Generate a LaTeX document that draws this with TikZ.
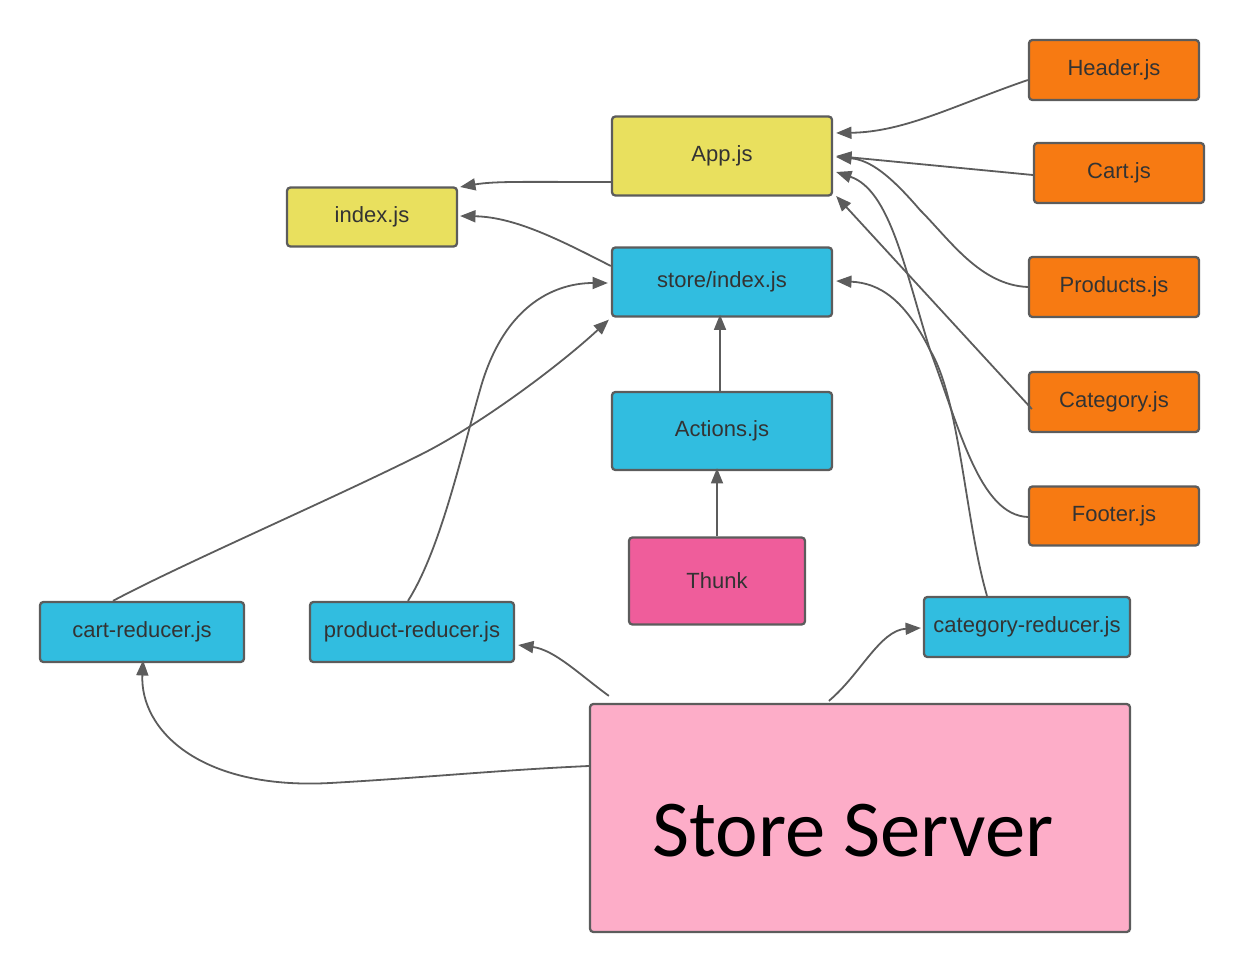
\documentclass[tikz,border=0pt]{standalone}
\usepackage{fontspec}
\setmainfont{Liberation Sans}
\newfontfamily\carlito{Carlito}
\usetikzlibrary{arrows.meta}
\definecolor{yel}{HTML}{E9E05E}
\definecolor{blu}{HTML}{31BDE0}
\definecolor{org}{HTML}{F77A12}
\definecolor{thk}{HTML}{EF5D9B}
\definecolor{srv}{HTML}{FDADC8}
\definecolor{edge}{HTML}{5C5C5C}
\definecolor{txt}{HTML}{333333}
\tikzset{
  box/.style={draw=edge, line width=1.7pt, rounded corners=2.5pt, inner sep=0pt,
    font=\fontsize{16.5}{19}\selectfont, text=txt},
  conn/.style={draw=edge, line width=1.35pt, -{Triangle[length=11.5pt,width=9pt]}},
  bigtext/.style={inner sep=0pt, text=black, font=\carlito\fontsize{60.5}{64}\selectfont}
}
\begin{document}
\begin{tikzpicture}[x=0.75pt,y=-0.75pt]
\useasboundingbox (0,0) rectangle (1245,973);
% nodes
\node[box, fill=org, minimum width=127.5pt, minimum height=45pt] (header) at (1114,70) {Header.js};
\node[box, fill=yel, minimum width=165pt, minimum height=59.25pt] (app) at (722,156) {App.js};
\node[box, fill=org, minimum width=127.5pt, minimum height=45pt] (cart) at (1119,173) {Cart.js};
\node[box, fill=yel, minimum width=127.5pt, minimum height=44.25pt] (index) at (372,217) {index.js};
\node[box, fill=blu, minimum width=165pt, minimum height=51.75pt] (store) at (722,282) {store/index.js};
\node[box, fill=org, minimum width=127.5pt, minimum height=45pt] (products) at (1114,287) {Products.js};
\node[box, fill=org, minimum width=127.5pt, minimum height=45pt] (category) at (1114,402) {Category.js};
\node[box, fill=blu, minimum width=165pt, minimum height=58.5pt] (actions) at (722,431) {Actions.js};
\node[box, fill=org, minimum width=127.5pt, minimum height=44.25pt] (footer) at (1114,516) {Footer.js};
\node[box, fill=thk, minimum width=132pt, minimum height=65.25pt] (thunk) at (717,581) {Thunk};
\node[box, fill=blu, minimum width=153pt, minimum height=45pt] (cartred) at (142,632) {cart-reducer.js};
\node[box, fill=blu, minimum width=153pt, minimum height=45pt] (prodred) at (412,632) {product-reducer.js};
\node[box, fill=blu, minimum width=154.5pt, minimum height=45pt] (catred) at (1027,627) {category-reducer.js};
\node[box, fill=srv, minimum width=405pt, minimum height=171pt] (server) at (860,818) {};
\node[bigtext] (servertext) at (853,831) {Store Server};
% connectors
\draw[conn] ([shift={(0,26)}]app.west) .. controls (525,182) and (495,181) .. ([shift={(2,-30)}]index.east);
\draw[conn] ([shift={(0,-16)}]store.west) .. controls (560,240) and (515,217) .. ([shift={(2,-1)}]index.east);
\draw[conn] ([shift={(0,10)}]header.west) .. controls (955,105) and (905,132) .. ([shift={(3,-23)}]app.east);
\draw[conn] ([shift={(0,2)}]cart.west) -- ([shift={(3,0)}]app.east);
\draw[conn] ([shift={(0,0)}]products.west) .. controls (980,285) and (950,240) .. (920,210) .. controls (890,175) and (870,160) .. ([shift={(3,1)}]app.east);
\draw[conn] ([shift={(4,7)}]category.west) -- ([shift={(3,40)}]app.east);
\draw[conn] ([shift={(0,1)}]footer.west) .. controls (980,515) and (960,430) .. (930,350) .. controls (905,270) and (890,190) .. ([shift={(3,16)}]app.east);
\draw[conn] ([shift={(-40,0)}]catred.north) .. controls (965,520) and (960,400) .. (930,350) .. controls (905,300) and (880,283) .. ([shift={(3,-1)}]store.east);
\draw[conn] ([shift={(-4,0)}]prodred.north) .. controls (440,550) and (460,460) .. (480,390) .. controls (505,300) and (560,283) .. ([shift={(-3,1)}]store.west);
\draw[conn] ([shift={(-29,0)}]cartred.north) .. controls (180,565) and (330,500) .. (420,455) .. controls (480,425) and (560,365) .. ([shift={(-2,2)}]store.south west);
\draw[conn] ([shift={(-2,0)}]actions.north) -- ([shift={(-2,-3)}]store.south);
\draw[conn] (thunk.north) -- ([shift={(-5,-3)}]actions.south);
\draw[conn] ([shift={(0,-52)}]server.west) .. controls (500,770) and (420,778) .. (330,783) .. controls (200,790) and (140,730) .. ([shift={(1,-3)}]cartred.south);
\draw[conn] ([shift={(20,-7)}]server.north west) .. controls (580,675) and (555,650) .. ([shift={(3,13)}]prodred.east);
\draw[conn] ([shift={(240,-2)}]server.north west) .. controls (860,675) and (880,630) .. ([shift={(-2,1)}]catred.west);
\end{tikzpicture}
\end{document}
